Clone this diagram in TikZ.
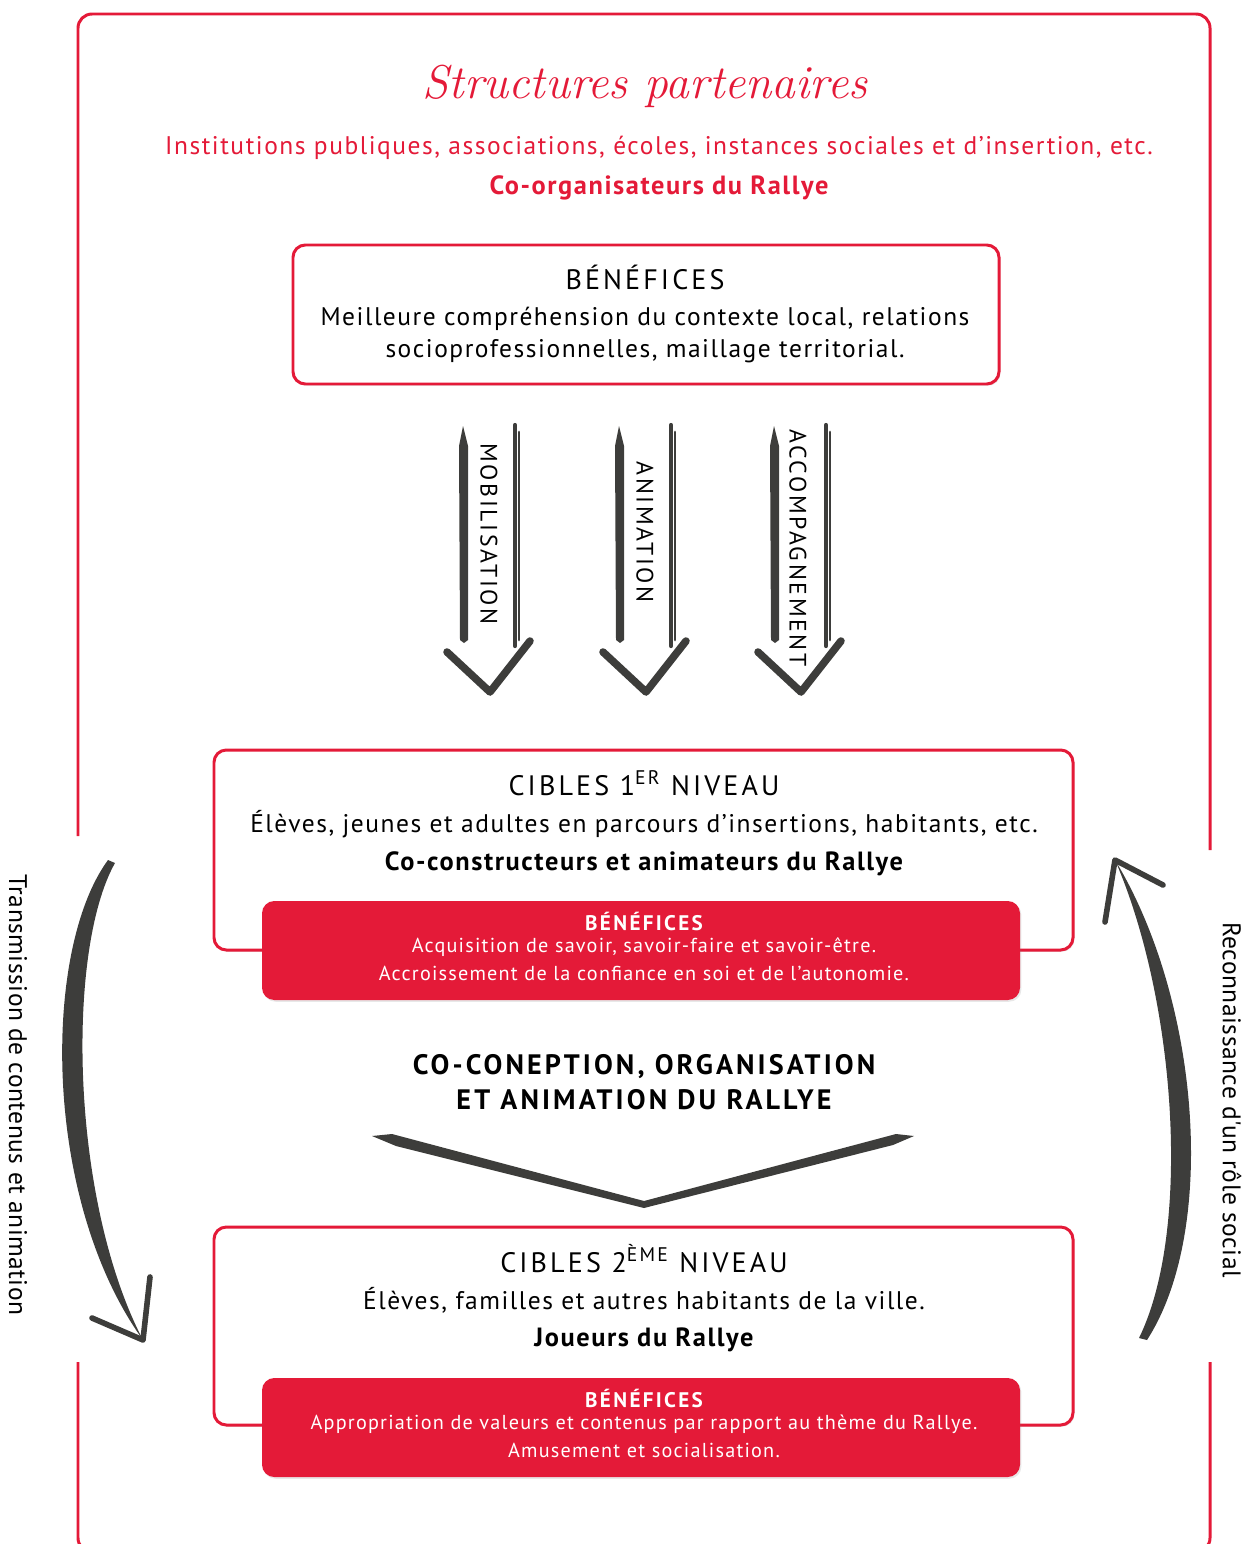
\documentclass[tikz,border=0pt]{standalone}
\usepackage{fontspec}
\setsansfont{PT Sans}[LetterSpace=6]
\newfontfamily\capsfont{PT Sans}[LetterSpace=11]
\newfontfamily\sidefont{PT Sans}[LetterSpace=2]
\usetikzlibrary{shadows}
\definecolor{rred}{RGB}{228,26,56}
\definecolor{ink}{RGB}{61,61,59}
\begin{document}
\begin{tikzpicture}[x=0.02cm,y=-0.02cm,
  frame/.style={draw=rred,line width=1.7pt,rounded corners=8pt},
  wbox/.style={draw=rred,line width=1.7pt,rounded corners=7pt,fill=white,
     drop shadow={opacity=0.18,shadow xshift=0.8pt,shadow yshift=-1pt}},
  rbox/.style={fill=rred,rounded corners=7pt,
     drop shadow={opacity=0.18,shadow xshift=0.8pt,shadow yshift=-1pt}},
  txt/.style={font=\sffamily\fontsize{14.5}{17}\selectfont,inner sep=0pt},
  hd/.style={font=\capsfont\fontsize{16}{19}\selectfont,inner sep=0pt},
  bd/.style={font=\sffamily\bfseries\fontsize{15}{18}\selectfont,inner sep=0pt},
  rtxt/.style={font=\sffamily\fontsize{11.5}{14}\selectfont,text=white,inner sep=0pt},
  rhd/.style={font=\capsfont\bfseries\fontsize{12}{14}\selectfont,text=white,inner sep=0pt},
  atxt/.style={font=\capsfont\fontsize{13.5}{16}\selectfont,rotate=-90,inner sep=0pt},
  stxt/.style={font=\sidefont\fontsize{14.5}{17}\selectfont,rotate=-90,inner sep=0pt},
  stroke/.style={draw=ink,line width=4.3pt,line cap=round,line join=round},
  thin/.style={draw=ink,line width=2.4pt,line cap=round}]
\useasboundingbox (0,0) rectangle (1242,1544);

% outer frame (broken on both sides)
\draw[frame] (78,836) -- (78,14) -- (1210,14) -- (1210,850);
\draw[frame] (78,1362) -- (78,1552) -- (1210,1552) -- (1210,1362);

% header
\node[font=\rmfamily\itshape\fontsize{27}{30}\selectfont,text=rred] (title) at (645,86) {Structures partenaires};
\node[txt,text=rred] (inst) at (659,148) {Institutions publiques, associations, écoles, instances sociales et d'insertion, etc.};
\node[bd,text=rred] (coorg) at (659,188) {Co-organisateurs du Rallye};

% benefits box of partners
\draw[wbox] (293,245) rectangle (999,384);
\node[hd] (ben0) at (645,277) {BÉNÉFICES};
\node[txt,align=center,font=\sffamily\fontsize{14.5}{18.5}\selectfont] (ben0t) at (645,335) {Meilleure compréhension du contexte local, relations\\socioprofessionnelles, maillage territorial.};

% three down arrows
\foreach \cx/\nm in {489/a1,645/a2,800/a3}{
  \coordinate (\nm lt) at (\cx-26,426);
  \coordinate (\nm rt) at (\cx+26,425);
  \coordinate (\nm rb) at (\cx+26,646);
  \coordinate (\nm hl) at (\cx-42,652);
  \coordinate (\nm tip) at (\cx+1,692);
  \coordinate (\nm hr) at (\cx+41,641);
  \fill[ink] (\nm lt) -- (\cx-21,446) -- (\cx-21,640) -- (\cx-25,643) -- (\cx-29,640) -- (\cx-30,446) -- cycle;
  \draw[thin] (\nm rt) -- (\nm rb);
  \draw[thin,line width=1.6pt] (\cx+30,432) -- (\cx+30,640);
  \draw[stroke] (\nm hl) -- (\nm tip) -- (\nm hr);
}
\node[atxt] (mob) at (489,534) {MOBILISATION};
\node[atxt] (ani) at (645,532) {ANIMATION};
\node[atxt] (acc) at (798,548) {ACCOMPAGNEMENT};

% cibles 1er niveau
\draw[wbox] (214,750) rectangle (1073,950);
\node[hd] (c1h) at (644,783) {CIBLES 1\textsuperscript{ER} NIVEAU};
\node[txt] (c1t) at (644,824) {Élèves, jeunes et adultes en parcours d'insertions, habitants, etc.};
\node[bd] (c1b) at (644,864) {Co-constructeurs et animateurs du Rallye};
\fill[rbox] (262,901) rectangle (1020,1000);
\node[rhd] (r1h) at (644,921) {BÉNÉFICES};
\node[rtxt] (r1a) at (644,947) {Acquisition de savoir, savoir-faire et savoir-être.};
\node[rtxt] (r1b) at (644,973) {Accroissement de la confiance en soi et de l'autonomie.};

% middle heading
\node[font=\capsfont\bfseries\fontsize{16}{20}\selectfont,align=center,inner sep=0pt] (mid) at (644,1082) {CO-CONEPTION, ORGANISATION\\ET ANIMATION DU RALLYE};

% chevron
\coordinate (chl) at (372,1136);
\coordinate (chm) at (644,1204);
\coordinate (chr) at (914,1136);
\fill[ink] (chl) -- (392,1134) -- (644,1201) -- (896,1134) -- (chr) -- (893,1145) -- (644,1208) -- (396,1146) -- cycle;

% cibles 2eme niveau
\draw[wbox] (214,1227) rectangle (1073,1425);
\node[hd] (c2h) at (644,1259) {CIBLES 2\textsuperscript{ÈME} NIVEAU};
\node[txt] (c2t) at (644,1300) {Élèves, familles et autres habitants de la ville.};
\node[bd] (c2b) at (644,1340) {Joueurs du Rallye};
\fill[rbox] (262,1378) rectangle (1020,1477);
\node[rhd] (r2h) at (644,1398) {BÉNÉFICES};
\node[rtxt] (r2a) at (644,1424) {Appropriation de valeurs et contenus par rapport au thème du Rallye.};
\node[rtxt] (r2b) at (644,1450) {Amusement et socialisation.};

% left curved arrow
\coordinate (lst) at (108,860);
\coordinate (lend) at (143,1340);
\fill[ink] (lst) .. controls (42,950) and (42,1200) .. (lend)
   .. controls (70,1200) and (66,950) .. (115,863) -- cycle;
\draw[stroke,line width=3.2pt] (92,1318) -- (lend) -- (150,1277);
\node[stxt] (ltxt) at (18,1095) {Transmission de contenus et animation};

% right curved arrow
\coordinate (rst) at (1147,1340);
\coordinate (rend) at (1115,860);
\fill[ink] (rst) .. controls (1218,1230) and (1200,1000) .. (rend)
   .. controls (1176,1000) and (1192,1230) .. (1139,1338) -- cycle;
\draw[stroke,line width=3.2pt] (1163,885) -- (rend) -- (1105,922);
\node[stxt] (rtxt) at (1232,1100) {Reconnaissance d'un rôle social};
\end{tikzpicture}
\end{document}
